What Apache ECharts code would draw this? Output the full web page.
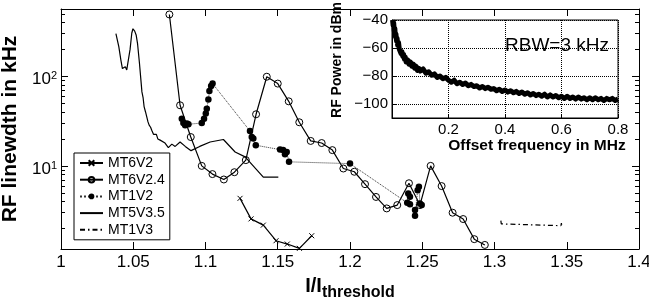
<!DOCTYPE html>
<html>
<head>
<meta charset="utf-8">
<script src="https://cdn.jsdelivr.net/npm/echarts@6/dist/echarts.min.js"></script>
<style>
html, body { margin: 0; padding: 0; background: #fff; }
#main { width: 649px; height: 305px; }
</style>
</head>
<body>
<div id="main"></div>
<script>
// [I/Ith, linewidth kHz]
var mt6v2 = [[1.1239, 4.34], [1.1315, 2.56], [1.1400, 2.18], [1.1488, 1.46], [1.1566, 1.34], [1.1650, 1.2], [1.1735, 1.66]];
var mt6v24 = [[1.0750, 491], [1.0824, 47.5], [1.0898, 21], [1.0974, 10], [1.1048, 8.1], [1.1127, 7.05], [1.1200, 8.5],
    [1.1279, 11.6], [1.1350, 37.7], [1.1424, 99], [1.1500, 83], [1.1576, 52.6], [1.1649, 30.7], [1.1728, 19], [1.1804, 18],
    [1.1878, 15], [1.1954, 9.35], [1.2030, 8.6], [1.2104, 6.25], [1.2180, 4.5], [1.2254, 3.35], [1.2327, 3.65], [1.2408, 6.4],
    [1.2484, 3.65], [1.2558, 10], [1.2634, 5.95], [1.2710, 3.0], [1.2783, 2.55], [1.2860, 1.52], [1.2933, 1.31]];
var mt1v2 = [[1.0836, 33.7], [1.0847, 30.1], [1.0859, 28.5], [1.0871, 29.7], [1.0882, 29.2], [1.0974, 30.1], [1.0990, 33.7],
    [1.1002, 38.4], [1.1009, 43.6], [1.1020, 55], [1.1027, 68.5], [1.1039, 78], [1.1049, 83], [1.1308, 24.5], [1.1320, 21],
    [1.1331, 20.2], [1.1348, 17], [1.1516, 15.2], [1.1537, 15], [1.1550, 13.5], [1.1562, 14.3], [1.1578, 11.1], [1.2000, 10.6],
    [1.2396, 3.87], [1.2403, 4.92], [1.2415, 4.51], [1.2415, 3.74], [1.2450, 3.21], [1.2450, 2.77], [1.2468, 5.36],
    [1.2477, 5.84], [1.2484, 3.81], [1.2496, 3.65]];
var mt5v35 = [[1.0380, 300], [1.0400, 215], [1.0415, 150], [1.0425, 122], [1.0435, 118], [1.0445, 128], [1.0455, 118],
    [1.0465, 116], [1.0478, 200], [1.0490, 305], [1.0498, 340], [1.0510, 320], [1.0520, 290], [1.0530, 230], [1.0543, 140],
    [1.0552, 95], [1.0560, 67], [1.0568, 58], [1.0575, 46], [1.0585, 40], [1.0594, 35], [1.0602, 31], [1.0610, 28.5],
    [1.0620, 27], [1.0628, 25], [1.0640, 22.5], [1.0660, 22.5], [1.0670, 20], [1.0686, 19.4], [1.0720, 18], [1.0743, 16],
    [1.0767, 17.5], [1.0790, 16.5], [1.0824, 18.5], [1.0860, 16.5], [1.0900, 14.8], [1.0960, 16.5], [1.1032, 18.5],
    [1.1124, 19.7], [1.1205, 14.3], [1.1274, 12.6], [1.1400, 7.5], [1.1504, 7.5]];
var mt1v3 = [[1.3044, 2.45], [1.3047, 2.25], [1.3050, 2.15], [1.3460, 2.15], [1.3463, 2.3], [1.3466, 2.12]];

// inset spectrum
var offsetMHz = [0.002, 0.004, 0.006, 0.008, 0.010, 0.012, 0.014, 0.016, 0.018, 0.020, 0.023, 0.026, 0.029, 0.032, 0.035,
    0.038, 0.041, 0.044, 0.047, 0.050, 0.055, 0.060, 0.065, 0.070, 0.075, 0.080, 0.085, 0.090, 0.095,
    0.10, 0.11, 0.12, 0.13, 0.14, 0.15, 0.16, 0.17, 0.18, 0.19, 0.20, 0.21, 0.22, 0.23, 0.24, 0.25, 0.26, 0.27, 0.28, 0.29,
    0.30, 0.31, 0.32, 0.33, 0.34, 0.35, 0.36, 0.37, 0.38, 0.39, 0.40, 0.41, 0.42, 0.43, 0.44, 0.45, 0.46, 0.47, 0.48, 0.49,
    0.50, 0.51, 0.52, 0.53, 0.54, 0.55, 0.56, 0.57, 0.58, 0.59, 0.60, 0.61, 0.62, 0.63, 0.64, 0.65, 0.66, 0.67, 0.68, 0.69,
    0.70, 0.71, 0.72, 0.73, 0.74, 0.75, 0.76, 0.77, 0.78, 0.79, 0.80];
var powerDbm = [-40, -44, -42, -48, -46, -52, -50, -55, -53, -58, -56, -61, -60, -64, -62.5, -66, -64.5, -68, -66.5, -70,
    -68.5, -71.5, -70, -73, -71.5, -74.5, -73, -76, -74.5,
    -76.5, -75, -78, -77, -79.5, -78.5, -81, -80, -82, -81, -83, -84.5, -83, -85.5, -84.5, -86, -85, -87, -86, -87.5,
    -87, -88.5, -87.5, -89, -88, -89.5, -89, -90.5, -89.5, -91, -90, -91.5, -90.5, -92, -91, -92.5, -91.5, -93, -92, -93.5,
    -92.5, -94, -93, -94.5, -93, -95, -93.5, -95, -94, -95.5, -94.5, -96, -94.5, -96, -95, -96.5, -95, -96.5, -95.5, -97,
    -95.5, -97, -95.5, -97, -96, -97.5, -96, -97, -96, -97.5, -96.5];

var yMajorTicks = [10, 100];
var yMinorTicks = [2, 3, 4, 5, 6, 7, 8, 9, 20, 30, 40, 50, 60, 70, 80, 90, 200, 300, 400, 500];
var insetYTicks = [-100, -80, -60, -40];

var font = 'Liberation Sans';

var spectrum = [];
for (var i = 0; i < offsetMHz.length; i++) {
    spectrum.push([offsetMHz[i], powerDbm[i]]);
}

function logAxis(position, ticks, len, showLine, showLabel) {
    return {
        type: 'log',
        gridIndex: 0,
        position: position,
        min: 1.18,
        max: 565,
        axisLine: {show: showLine, lineStyle: {color: '#000', width: 1}},
        axisTick: {inside: true, length: len, customValues: ticks, lineStyle: {color: '#000'}},
        axisLabel: {
            show: showLabel,
            customValues: yMajorTicks,
            margin: 4,
            color: '#000',
            fontFamily: font,
            formatter: function (v) {
                return '{b|10}{s|' + Math.round(Math.log10(v)) + '}';
            },
            rich: {
                b: {fontSize: 17, fontFamily: font, color: '#000', padding: [6, 0, 0, 0]},
                s: {fontSize: 11, fontFamily: font, color: '#000'}
            }
        },
        splitLine: {show: false}
    };
}

var yMain = logAxis('left', yMajorTicks, 7, true, true);
yMain.name = 'RF linewdth in kHz';
yMain.nameLocation = 'middle';
yMain.nameGap = 36;
yMain.nameTextStyle = {fontSize: 21, fontWeight: 'bold', color: '#000', fontFamily: font};

var option = {
    animation: false,
    backgroundColor: '#fff',
    textStyle: {fontFamily: font, color: '#000'},
    grid: [
        {left: 61, right: 10, top: 9, bottom: 56, outerBoundsMode: 'none'},
        {left: 392, right: 31, top: 20, bottom: 187, outerBoundsMode: 'none',
            show: true, backgroundColor: '#fff', borderColor: '#000', borderWidth: 1}
    ],
    legend: {
        orient: 'vertical',
        left: 74,
        top: 153,
        padding: [3, 5, 3, 5],
        itemGap: 2.7,
        itemWidth: 23,
        itemHeight: 7,
        backgroundColor: '#fff',
        borderColor: '#000',
        borderWidth: 1,
        borderRadius: 0,
        textStyle: {fontSize: 14, lineHeight: 14, color: '#000', fontFamily: font},
        data: [
            'MT6V2',
            'MT6V2.4',
            'MT1V2',
            {name: 'MT5V3.5', itemStyle: {opacity: 0}},
            {name: 'MT1V3', itemStyle: {opacity: 0}}
        ]
    },
    graphic: [
        {type: 'text', left: 505, top: 36, z: 10, style: {text: 'RBW=3 kHz', fontSize: 19, fontFamily: font, fill: '#000'}}
    ],
    xAxis: [
        {
            type: 'value', gridIndex: 0, position: 'bottom', min: 1, max: 1.4, interval: 0.05,
            axisLine: {lineStyle: {color: '#000'}},
            axisTick: {inside: true, length: 7, lineStyle: {color: '#000'}},
            axisLabel: {fontSize: 17, margin: 5, color: '#000', fontFamily: font},
            splitLine: {show: false},
            name: '{a|I/I}{b|threshold}',
            nameLocation: 'middle',
            nameGap: 23,
            nameTextStyle: {
                rich: {
                    a: {fontSize: 20, fontWeight: 'bold', fontFamily: font, color: '#000'},
                    b: {fontSize: 16, fontWeight: 'bold', fontFamily: font, color: '#000', padding: [13, 0, 0, 0]}
                }
            }
        },
        {
            type: 'value', gridIndex: 0, position: 'top', min: 1, max: 1.4, interval: 0.05,
            axisLine: {lineStyle: {color: '#000'}},
            axisTick: {inside: true, length: 7, lineStyle: {color: '#000'}},
            axisLabel: {show: false},
            splitLine: {show: false}
        },
        {
            type: 'value', gridIndex: 1, min: 0, max: 0.8, interval: 0.2,
            axisLine: {lineStyle: {color: '#000'}},
            axisTick: {inside: true, length: 4, lineStyle: {color: '#000'}},
            axisLabel: {
                fontSize: 15, margin: 4, color: '#000', fontFamily: font,
                formatter: function (v) { return v === 0 ? '' : v.toFixed(1); }
            },
            splitLine: {show: true, lineStyle: {type: 'dotted', color: '#000', width: 1}},
            name: 'Offset frequency in MHz',
            nameLocation: 'middle',
            nameGap: 20,
            nameTextStyle: {fontSize: 15.5, fontWeight: 'bold', color: '#000', fontFamily: font, padding: [0, 0, 0, 64]}
        }
    ],
    yAxis: [
        yMain,
        logAxis('right', yMajorTicks, 7, true, false),
        logAxis('left', yMinorTicks, 4, false, false),
        logAxis('right', yMinorTicks, 4, false, false),
        {
            type: 'value', gridIndex: 1, min: -110, max: -40,
            axisLine: {lineStyle: {color: '#000'}},
            axisTick: {inside: true, length: 4, customValues: insetYTicks, lineStyle: {color: '#000'}},
            axisLabel: {
                customValues: insetYTicks, fontSize: 15, margin: 4, color: '#000', fontFamily: font,
                formatter: function (v) { return '\u2212' + Math.abs(v); }
            },
            splitLine: {show: true, lineStyle: {type: 'dotted', color: '#000', width: 1}},
            name: 'RF Power in dBm',
            nameLocation: 'middle',
            nameGap: 48,
            nameTextStyle: {fontSize: 14, fontWeight: 'bold', color: '#000', fontFamily: font, padding: [0, 0, 0, 18]}
        }
    ],
    series: [
        {
            name: 'MT6V2', type: 'line', xAxisIndex: 0, yAxisIndex: 0, data: mt6v2,
            symbol: 'path://M0,0L10,10M10,0L0,10', symbolSize: 5,
            itemStyle: {color: 'rgba(0,0,0,0)', borderColor: '#000', borderWidth: 1},
            lineStyle: {color: '#000', width: 1.2}
        },
        {
            name: 'MT6V2.4', type: 'line', xAxisIndex: 0, yAxisIndex: 0, data: mt6v24,
            symbol: 'circle', symbolSize: 7,
            itemStyle: {color: 'rgba(0,0,0,0)', borderColor: '#000', borderWidth: 1},
            lineStyle: {color: '#000', width: 1.2}
        },
        {
            name: 'MT1V2', type: 'line', xAxisIndex: 0, yAxisIndex: 0, data: mt1v2,
            symbol: 'circle', symbolSize: 6.5,
            itemStyle: {color: '#000'},
            lineStyle: {color: '#333', width: 1, type: 'dotted'}
        },
        {
            name: 'MT5V3.5', type: 'line', xAxisIndex: 0, yAxisIndex: 0, data: mt5v35,
            symbol: 'none', itemStyle: {color: '#000'},
            lineStyle: {color: '#000', width: 1.2}
        },
        {
            name: 'MT1V3', type: 'line', xAxisIndex: 0, yAxisIndex: 0, data: mt1v3,
            symbol: 'none', itemStyle: {color: '#000'},
            lineStyle: {color: '#000', width: 1.2, type: [5, 3, 1.5, 3]}
        },
        {
            name: 'spectrum', type: 'line', xAxisIndex: 2, yAxisIndex: 4, data: spectrum,
            symbol: 'none', itemStyle: {color: '#000'},
            lineStyle: {color: '#000', width: 5, join: 'round'}
        }
    ]
};

var myChart = echarts.init(document.getElementById('main'));
myChart.setOption(option);
</script>
</body>
</html>
